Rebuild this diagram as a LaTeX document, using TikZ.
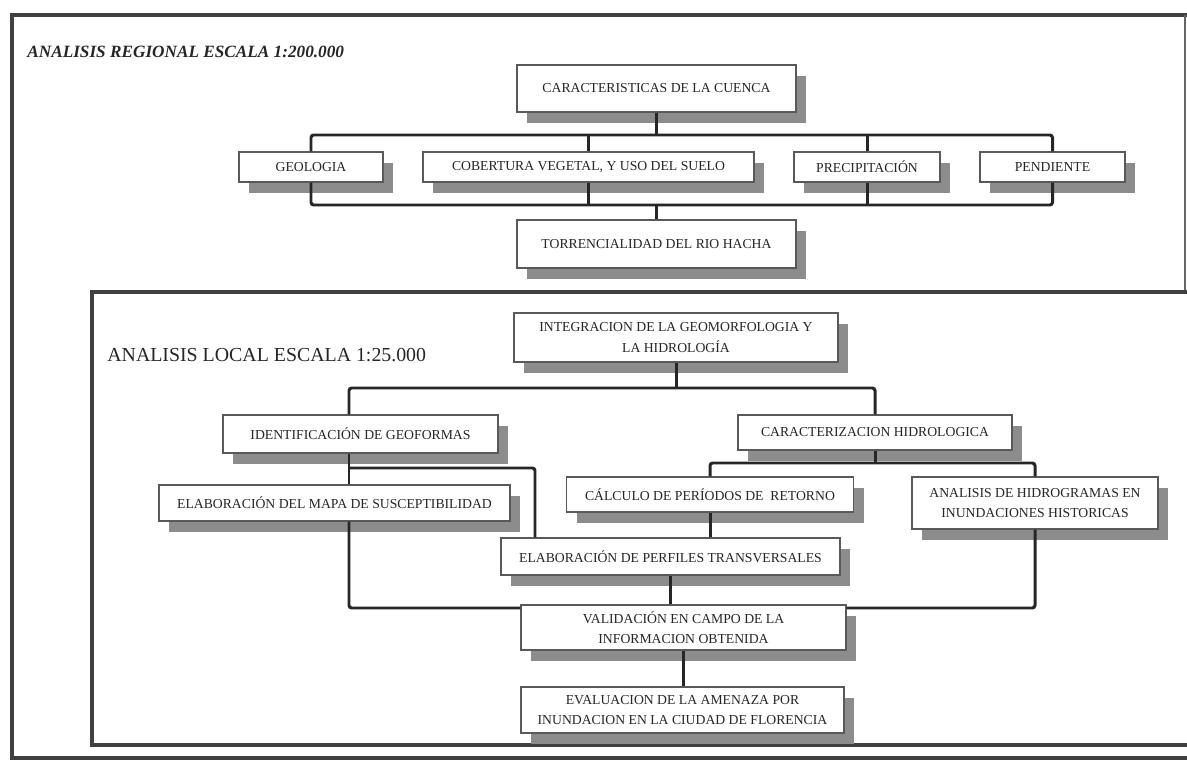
\documentclass[tikz,border=0pt]{standalone}
\usepackage{fontspec}
\setmainfont{Liberation Serif}
\usetikzlibrary{shadows}

\begin{document}
\begin{tikzpicture}[x=0.02cm,y=-0.02cm,
		box/.style={draw=black!65,line width=.8pt,fill=white,align=center,inner sep=2pt,text=black!85,font=\fontsize{7.8}{11.5}\selectfont,
			drop shadow={shadow xshift=.2cm,shadow yshift=-.22cm,fill=black!45,opacity=1}},
		link/.style={line width=1.7pt,black!85,rounded corners=1.5pt},
		frame/.style={line width=2.8pt,black!75}]
	\useasboundingbox (0,0) rectangle (1187,763);
	\draw[frame] (1195,15) -- (12,15) -- (12,758) -- (1195,758);
	\draw[black!60,line width=.6pt] (1185,15) -- (1185,292);
	\draw[frame] (1195,292) -- (92,292) -- (92,745) -- (1195,745);
	\node[anchor=west,inner sep=0,text=black!85,font=\fontsize{9.8}{12}\selectfont\bfseries\itshape] (reg) at (27,52) {ANALISIS REGIONAL ESCALA 1:200.000};
	\node[anchor=west,inner sep=0,text=black!85,font=\fontsize{11.3}{13}\selectfont] (loc) at (107,355) {ANALISIS LOCAL ESCALA 1:25.000};
	\foreach \n/\x/\y/\w/\h/\t in {cuenca/656.5/88.5/279/47/{CARACTERISTICAS DE LA CUENCA},
			geo/311/167/144/30/GEOLOGIA, cob/588.5/167/331/30/{COBERTURA VEGETAL, Y USO DEL SUELO},
			prec/867/167/146/30/PRECIPITACIÓN, pend/1052.5/167/145/30/PENDIENTE,
			torr/656.5/244/279/48/{TORRENCIALIDAD DEL RIO HACHA},
			integ/676/337.5/324/49/{INTEGRACION DE LA GEOMORFOLOGIA Y\\LA HIDROLOGÍA},
			ident/360.5/434/275/38/{IDENTIFICACIÓN DE GEOFORMAS}, carac/875/432.5/274/35/{CARACTERIZACION HIDROLOGICA},
			mapa/334.5/503/351/36/{ELABORACIÓN DEL MAPA DE SUSCEPTIBILIDAD},
			calc/710/494.5/287/35/{CÁLCULO DE PERÍODOS DE\ \ RETORNO},
			hidro/1035/503/246/52/{ANALISIS DE HIDROGRAMAS EN\\INUNDACIONES HISTORICAS},
			perf/670.5/556.5/339/37/{ELABORACIÓN DE PERFILES TRANSVERSALES},
			valid/683.5/627.5/325/45/{VALIDACIÓN EN CAMPO DE LA\\INFORMACION OBTENIDA},
			eval/682.5/710/323/46/{EVALUACION DE LA AMENAZA POR\\INUNDACION EN LA CIUDAD DE FLORENCIA}}
		\node[box,minimum width=\w*0.02cm,minimum height=\h*0.02cm] (\n) at (\x,\y) {\t};
	\path (311,135) coordinate (t1) (311,205) coordinate (b1);
	\draw[link] (geo) -- (geo |- t1) -- (pend |- t1) -- (pend) (geo) -- (geo |- b1) -- (pend |- b1) -- (pend);
	\foreach \n in {cob,prec} \draw[link] (\n |- t1) -- (\n) (\n) -- (\n |- b1);
	\draw[link] (cuenca) -- (cuenca |- t1) (torr) -- (torr |- b1);
	\path (349,388) coordinate (j1) (535,468) coordinate (j2) (349,608) coordinate (j3) (714,463) coordinate (j4);
	\draw[link] (integ) -- (integ |- j1);
	\draw[link] (ident.north -| j1) -- (j1) -- (j1 -| carac) -- (carac);
	\draw[link] (ident.south -| j1) -- (mapa.north -| j1);
	\draw[link] (mapa.south -| j1) -- (j3) -- (valid.west |- j3);
	\draw[link] (j1 |- j2) -- (j2) -- (perf.north -| j2);
	\draw[link] (carac) -- (carac |- j4);
	\draw[link] (calc) -- (calc |- j4) -- (hidro |- j4) -- (hidro);
	\draw[link] (calc) -- (calc |- perf.north);
	\draw[link] (perf) -- (perf |- valid.north);
	\draw[link] (hidro) -- (hidro |- j3) -- (valid.east |- j3);
	\draw[link] (valid) -- (valid |- eval.north);
\end{tikzpicture}
\end{document}
